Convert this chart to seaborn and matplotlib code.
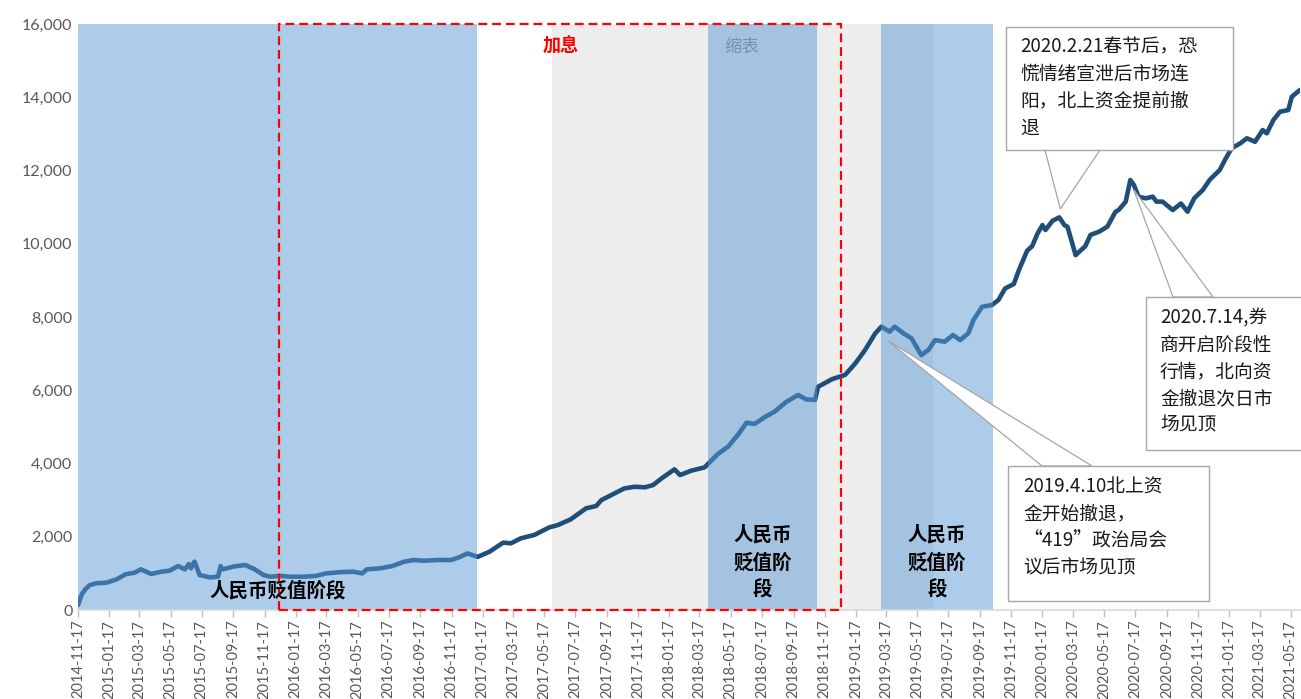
import matplotlib
matplotlib.use("Agg")
import matplotlib.pyplot as plt
import matplotlib.dates as mdates
from matplotlib.patches import Rectangle, Polygon
from matplotlib.ticker import FuncFormatter
import pandas as pd
import seaborn as sns

# 北向资金累计净流入（亿元）
dates = [
    "2014-11-17", "2014-11-24", "2014-12-01", "2014-12-10", "2014-12-23", "2015-01-12",
    "2015-02-01", "2015-02-18", "2015-03-08", "2015-03-20", "2015-04-09", "2015-04-29",
    "2015-05-15", "2015-06-01", "2015-06-14", "2015-06-22", "2015-06-26", "2015-07-03",
    "2015-07-13", "2015-08-02", "2015-08-18", "2015-08-23", "2015-08-27", "2015-09-17",
    "2015-10-10", "2015-10-29", "2015-11-15", "2015-11-28", "2015-12-17", "2016-01-07",
    "2016-02-02", "2016-02-25", "2016-03-17", "2016-04-14", "2016-05-09", "2016-05-26",
    "2016-06-04", "2016-07-01", "2016-07-24", "2016-08-16", "2016-09-04", "2016-09-24",
    "2016-10-20", "2016-11-16", "2016-12-02", "2016-12-18", "2017-01-07", "2017-01-30",
    "2017-02-26", "2017-03-13", "2017-04-01", "2017-04-28", "2017-05-27", "2017-06-13",
    "2017-07-08", "2017-08-07", "2017-08-27", "2017-09-06", "2017-09-29", "2017-10-21",
    "2017-11-10", "2017-11-30", "2017-12-16", "2018-01-02", "2018-01-27", "2018-02-07",
    "2018-03-01", "2018-03-27", "2018-04-22", "2018-05-12", "2018-05-31", "2018-06-17",
    "2018-07-03", "2018-07-22", "2018-08-11", "2018-09-03", "2018-09-26", "2018-10-12",
    "2018-10-29", "2018-11-04", "2018-12-01", "2018-12-27", "2019-01-16", "2019-02-04",
    "2019-02-24", "2019-03-08", "2019-03-24", "2019-04-03", "2019-04-20", "2019-05-06",
    "2019-05-25", "2019-06-08", "2019-06-21", "2019-07-10", "2019-07-26", "2019-08-09",
    "2019-08-25", "2019-09-04", "2019-09-21", "2019-10-10", "2019-10-23", "2019-11-05",
    "2019-11-22", "2019-12-02", "2019-12-18", "2019-12-28", "2020-01-07", "2020-01-17",
    "2020-01-23", "2020-02-06", "2020-02-19", "2020-02-29", "2020-03-06", "2020-03-22",
    "2020-04-10", "2020-04-20", "2020-05-07", "2020-05-23", "2020-06-08", "2020-06-14",
    "2020-06-28", "2020-07-07", "2020-07-14", "2020-07-23", "2020-08-06", "2020-08-20",
    "2020-08-27", "2020-09-08", "2020-09-28", "2020-10-14", "2020-10-27", "2020-11-09",
    "2020-11-26", "2020-12-09", "2020-12-29", "2021-01-08", "2021-01-21", "2021-02-07",
    "2021-02-20", "2021-03-08", "2021-03-23", "2021-03-31", "2021-04-13", "2021-04-26",
    "2021-05-12", "2021-05-19", "2021-06-04",
]
flow = [
    135, 420, 560, 680, 730, 745,
    840, 975, 1020, 1110, 985, 1045,
    1075, 1200, 1110, 1255, 1140, 1320,
    955, 890, 910, 1200, 1110, 1185,
    1230, 1110, 955, 910, 930, 910,
    910, 930, 1000, 1035, 1045, 1000,
    1110, 1140, 1200, 1320, 1365, 1345,
    1365, 1365, 1440, 1545, 1450, 1590,
    1840, 1820, 1955, 2050, 2255, 2320,
    2475, 2775, 2840, 3000, 3165, 3320,
    3365, 3350, 3410, 3595, 3840, 3685,
    3805, 3895, 4260, 4460, 4780, 5115,
    5080, 5260, 5415, 5685, 5870, 5750,
    5735, 6095, 6300, 6420, 6735, 7100,
    7555, 7735, 7600, 7735, 7555, 7415,
    6960, 7100, 7370, 7325, 7510, 7370,
    7555, 7915, 8280, 8325, 8465, 8780,
    8900, 9280, 9810, 9935, 10265, 10510,
    10375, 10630, 10720, 10510, 10465, 9690,
    9935, 10240, 10330, 10465, 10875, 10920,
    11150, 11740, 11605, 11285, 11240, 11285,
    11150, 11150, 10920, 11100, 10875, 11240,
    11470, 11740, 12015, 12285, 12605, 12740,
    12880, 12785, 13105, 13015, 13380, 13605,
    13650, 14015, 14200,
]

# 阶段划分
depreciation_periods = [("2014-11-17", "2017-01-05"),
                        ("2018-04-03", "2018-11-01"),
                        ("2019-03-08", "2019-10-12")]
taper_period = ("2017-06-01", "2019-06-16")
hike_period = ("2015-12-16", "2018-12-19")
y_ticks = [0, 2000, 4000, 6000, 8000, 10000, 12000, 14000, 16000]

callouts = [
    # (文字行, 指向日期, 指向数值)
    (["2020.2.21春节后，恐", "慌情绪宣泄后市场连", "阳，北上资金提前撤", "退"], "2020-02-21", 10950),
    (["2020.7.14,券", "商开启阶段性", "行情，北向资", "金撤退次日市", "场见顶"], "2020-07-14", 11470),
    (["2019.4.10北上资", "金开始撤退，", "“419”政治局会", "议后市场见顶"], "2019-03-21", 7350),
]

sns.set_theme(style="white")
plt.rcParams["font.family"] = ["Noto Sans CJK SC", "DejaVu Sans"]
plt.rcParams["axes.unicode_minus"] = False

W, H = 1301, 699
fig = plt.figure(figsize=(W / 100, H / 100), dpi=100)
ax = fig.add_axes([78 / W, 1 - 610 / H, (1300 - 78) / W, (610 - 24) / H])

df = pd.DataFrame({"date": pd.to_datetime(dates), "flow": flow})
sns.lineplot(data=df, x="date", y="flow", ax=ax, color="#1F4E79", lw=3.3, zorder=1)

ts = pd.Timestamp
num = lambda d: mdates.date2num(ts(d))

# 缩表阶段（灰色底）
ax.axvspan(ts(taper_period[0]), ts(taper_period[1]), color="#EDEDED", lw=0, zorder=0)
# 人民币贬值阶段（半透明蓝色）
for a, b in depreciation_periods:
    ax.axvspan(ts(a), ts(b), color="#5B9BD5", alpha=0.5, lw=0, zorder=2)

# 加息阶段（红色虚线框）
ax.add_patch(Rectangle((num(hike_period[0]), 0), num(hike_period[1]) - num(hike_period[0]), 16000,
                       fill=False, edgecolor="#FF0000", lw=1.6, linestyle=(0, (4, 2.2)),
                       zorder=3, clip_on=False))

ax.set_xlim(ts("2014-11-17"), ts(dates[-1]))
ax.set_ylim(0, 16000)
ax.set_yticks(y_ticks)
ax.yaxis.set_major_formatter(FuncFormatter(lambda v, p: f"{int(v):,}"))
ax.xaxis.set_major_locator(mdates.MonthLocator(bymonth=[1, 3, 5, 7, 9, 11], bymonthday=17))
ax.xaxis.set_major_formatter(mdates.DateFormatter("%Y-%m-%d"))
ax.set_xlabel("")
ax.set_ylabel("")

for s in ["left", "top", "right"]:
    ax.spines[s].set_visible(False)
ax.spines["bottom"].set_color("#D9D9D9")
ax.spines["bottom"].set_linewidth(1.2)
ax.tick_params(axis="y", length=0, pad=4, labelsize=11.5, labelcolor="#595959")
ax.tick_params(axis="x", length=5, width=1, color="#BFBFBF", direction="out", pad=2,
               labelsize=10.5, labelcolor="#595959", bottom=True)
for lab in ax.get_yticklabels():
    lab.set_fontfamily(["Lato", "DejaVu Sans"])
for lab in ax.get_xticklabels():
    lab.set_fontfamily(["Lato", "DejaVu Sans"])
    lab.set_rotation(90)
    lab.set_ha("center")
    lab.set_va("top")

# 区间文字
def mid(a, b):
    return mdates.num2date((num(a) + num(b)) / 2)

ax.text(mid(*hike_period), 15400, "加息", color="#FF0000", fontsize=13, fontweight="bold",
        ha="center", va="center", zorder=4)
ax.text(mid(*taper_period), 15370, "缩表", color="#8C8C8C", fontsize=12.5,
        ha="center", va="center", zorder=1.5)

label_kw = dict(color="black", fontsize=14, fontweight="bold", ha="center", va="center", zorder=4)
ax.text(mid(*depreciation_periods[0]), 520, "人民币贬值阶段", **label_kw)
for per in depreciation_periods[1:]:
    for txt, val in zip(["人民币", "贬值阶", "段"], [2050, 1290, 550]):
        ax.text(mid(*per), val, txt, **label_kw)

# 标注框
def fig_pt(px, py):
    return (px / W, 1 - py / H)

def data_pt(d, v):
    disp = ax.transData.transform((num(d), v))
    return fig.transFigure.inverted().transform(disp)

box_specs = [
    # 框 (左, 上, 右, 下)、楔形底边两点、首行中心 y、左侧 x、行距
    ((1006, 27, 1233, 150), ((1045, 150), (1100, 150)), 47, 1020, 27),
    ((1146, 297, 1320, 450), ((1173, 297), (1213, 297)), 318, 1160, 26.8),
    ((1008, 466, 1209, 601), ((1042, 466), (1092, 466)), 487, 1023, 26.8),
]
edge = "#A6A6A6"
for (lines, d, v), (box, base, y0, x0, dy) in zip(callouts, box_specs):
    tip = data_pt(d, v)
    wedge = Polygon([fig_pt(*base[0]), tip, fig_pt(*base[1])], closed=True,
                    facecolor="white", edgecolor=edge, lw=0.9,
                    transform=fig.transFigure, zorder=5)
    fig.add_artist(wedge)
    l, t, r, b = box
    rect = Rectangle(fig_pt(l, b), (r - l) / W, (b - t) / H, facecolor="white",
                     edgecolor=edge, lw=1.0, transform=fig.transFigure, zorder=6)
    fig.add_artist(rect)
    for i, line in enumerate(lines):
        fig.text(*fig_pt(x0, y0 + i * dy), line, fontsize=13.5, color="#1A1A1A",
                 ha="left", va="center", zorder=7)

fig.savefig("out.png", dpi=100)
